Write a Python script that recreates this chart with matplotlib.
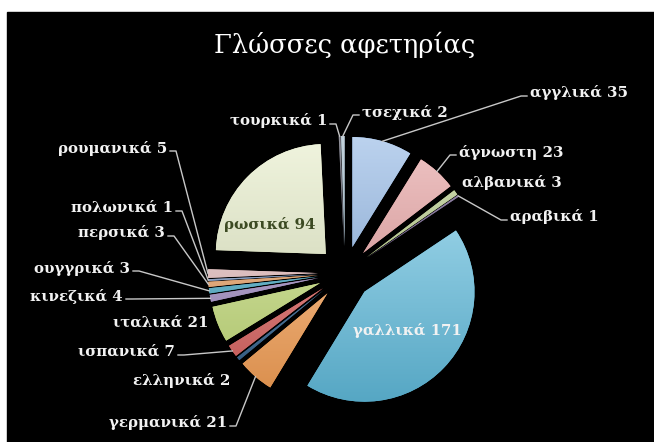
import matplotlib.pyplot as plt
import numpy as np
from matplotlib.colors import to_rgb
from matplotlib.patches import Rectangle

# γλώσσες αφετηρίας και πλήθος
glosses = ['αγγλικά', 'άγνωστη', 'αλβανικά', 'αραβικά', 'γαλλικά', 'γερμανικά',
           'ελληνικά', 'ισπανικά', 'ιταλικά', 'κινεζικά', 'ουγγρικά', 'περσικά',
           'πολωνικά', 'ρουμανικά', 'ρωσικά', 'τουρκικά', 'τσεχικά']
plithos = [35, 23, 3, 1, 171, 21, 2, 7, 21, 4, 3, 3, 1, 5, 94, 1, 2]

xromata = ['#8EB4E3', '#E39B9B', '#AFC47F', '#5F4C7A', '#62BEDF', '#F7A054',
           '#2D5C88', '#D95F5C', '#C3DC78', '#9E88C0', '#45A8C4', '#E9A063',
           '#7B98C4', '#E5BDBD', '#E4EBC6', '#4A4A58', '#9DB6C6']

# θέση ετικέτας: x, y (pixel, από κάτω), στοίχιση, γραμμή οδηγός
etiketes = [
    (530, 349, 'left', True),
    (459, 290, 'left', True),
    (462, 260, 'left', False),
    (510, 225, 'left', True),
    (407, 112, 'center', False),
    (227, 19, 'right', True),
    (230, 62, 'right', False),
    (175, 90, 'right', True),
    (208, 119, 'right', False),
    (123, 146, 'right', True),
    (130, 174, 'right', True),
    (165, 209, 'right', True),
    (173, 234, 'right', True),
    (167, 294, 'right', True),
    (270, 217, 'center', False),
    (327, 321, 'right', True),
    (362, 330, 'left', True),
]

W, H = 654, 442
fig = plt.figure(figsize=(W / 100, H / 100), dpi=100, facecolor='white')
ax = fig.add_axes([0, 0, 1, 1])
ax.add_patch(Rectangle((7, 0), W - 7, H - 12, color='black', zorder=0))

# explode σε μονάδες δεδομένων (pixel)
wedges, _ = ax.pie(plithos, colors=xromata, startangle=90, counterclock=False,
                   explode=[27] * len(plithos), radius=110, center=(345, 169),
                   wedgeprops=dict(linewidth=0))

# διαβάθμιση χρώματος σε κάθε κομμάτι
t = np.linspace(0, 1, 64)[:, None]
for w, c in zip(wedges, xromata):
    rgb = np.array(to_rgb(c))
    top = rgb + (1 - rgb) * 0.4
    bot = rgb * 0.88
    grad = bot + (top - bot) * t
    cx, cy = w.center
    r = w.r
    im = ax.imshow(grad[:, None, :], extent=(cx - r, cx + r, cy - r, cy + r),
                   origin='lower', aspect='auto', zorder=2, interpolation='bilinear')
    im.set_clip_path(w)

for i, w in enumerate(wedges):
    x, y, ha, odigos = etiketes[i]
    col = '#F2F2F2'
    if glosses[i] == 'ρωσικά':
        col = '#3C4A22'
    ax.text(x, y, f'{glosses[i]} {plithos[i]}', ha=ha, va='center', color=col,
            fontsize=10.8, fontweight='bold', family='DejaVu Serif', zorder=5)
    if odigos:
        th = np.deg2rad((w.theta1 + w.theta2) / 2)
        ex = w.center[0] + w.r * np.cos(th)
        ey = w.center[1] + w.r * np.sin(th)
        sx = x - 3 if ha == 'left' else x + 3
        kx = sx - 6 if ha == 'left' else sx + 6
        ax.plot([sx, kx, ex], [y - 3, y - 3, ey], color='#C8C8C8', lw=1, zorder=4)

ax.text(345, 397, 'Γλώσσες αφετηρίας', ha='center', va='center', color='white',
        fontsize=18.5, family='DejaVu Serif', zorder=5)

ax.set_xlim(0, W)
ax.set_ylim(0, H)
ax.set_aspect('equal')
ax.axis('off')
fig.savefig('out.png', dpi=100, facecolor='white')
